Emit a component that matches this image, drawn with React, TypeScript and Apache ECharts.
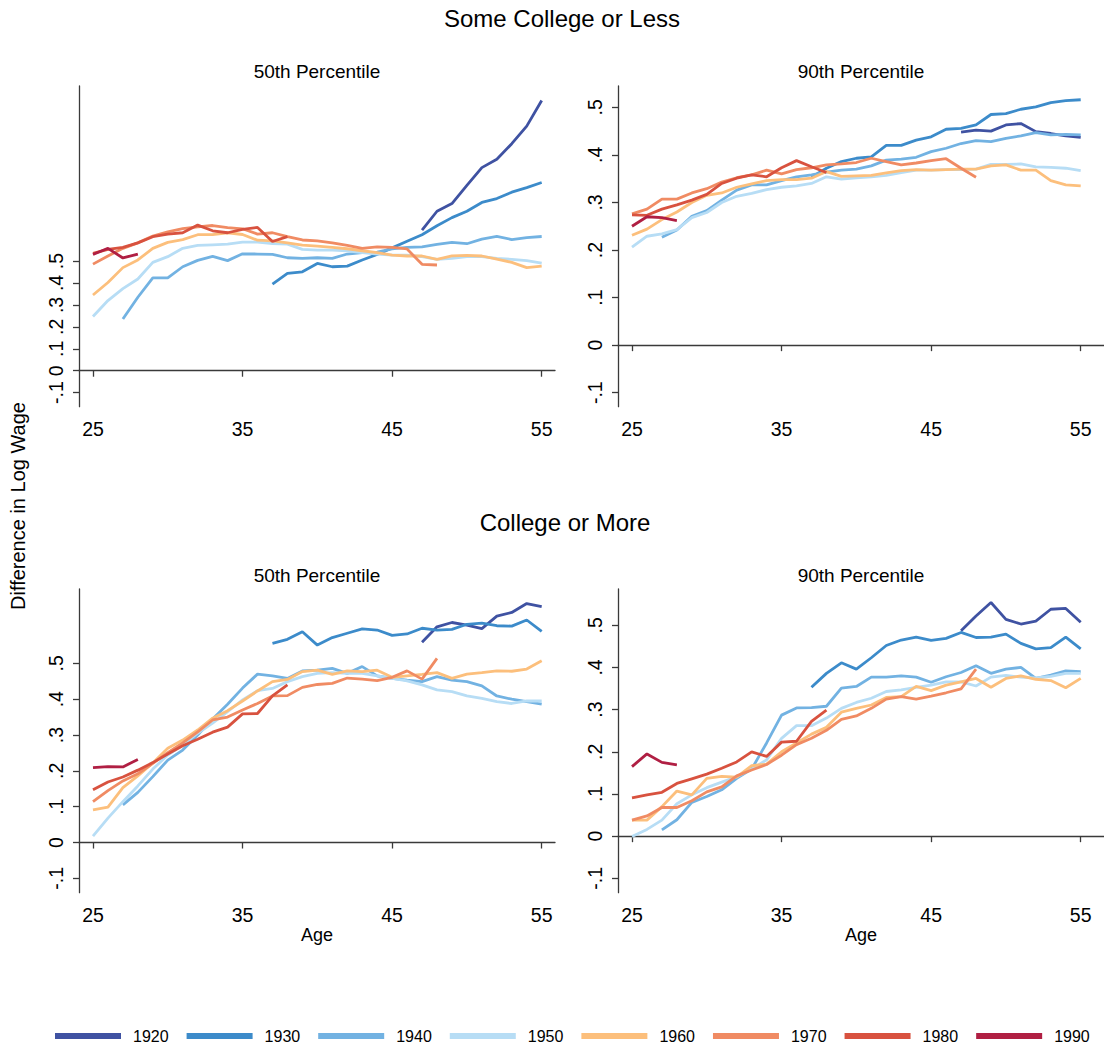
import React, { useEffect, useRef } from "react";
import * as echarts from "echarts";

// ---- categories / ticks ----
const cohorts = ["1920", "1930", "1940", "1950", "1960", "1970", "1980", "1990"];
const cohortColors = ["#3F52A2", "#3C8BCA", "#72B2E2", "#B7DDF5", "#FCBF7C", "#F08B63", "#D8523F", "#B01F43"];
const startAges = [47, 37, 27, 25, 25, 25, 25, 25];
const xTicks = [25, 35, 45, 55];
const yTicks = [-0.1, 0, 0.1, 0.2, 0.3, 0.4, 0.5];

// ---- Some College or Less, 50th percentile ----
const sc50_1920 = [0.641, 0.727, 0.762, 0.845, 0.926, 0.964, 1.035, 1.115, 1.232];
const sc50_1930 = [0.395, 0.444, 0.451, 0.489, 0.474, 0.477, 0.505, 0.53, 0.56, 0.59, 0.62, 0.661, 0.698, 0.727, 0.767, 0.785, 0.814, 0.835, 0.858];
const sc50_1940 = [0.236, 0.335, 0.423, 0.423, 0.474, 0.503, 0.521, 0.502, 0.533, 0.532, 0.53, 0.515, 0.512, 0.515, 0.512, 0.532, 0.538, 0.541, 0.555, 0.562, 0.565, 0.576, 0.585, 0.579, 0.6, 0.612, 0.598, 0.607, 0.612];
const sc50_1950 = [0.247, 0.32, 0.374, 0.418, 0.494, 0.52, 0.558, 0.571, 0.574, 0.577, 0.586, 0.586, 0.58, 0.577, 0.553, 0.55, 0.55, 0.547, 0.538, 0.532, 0.527, 0.527, 0.52, 0.508, 0.512, 0.52, 0.52, 0.512, 0.508, 0.502, 0.49];
const sc50_1960 = [0.345, 0.402, 0.47, 0.505, 0.558, 0.585, 0.598, 0.62, 0.62, 0.629, 0.621, 0.595, 0.592, 0.583, 0.573, 0.568, 0.562, 0.556, 0.547, 0.538, 0.527, 0.523, 0.523, 0.508, 0.524, 0.526, 0.523, 0.509, 0.494, 0.47, 0.477];
const sc50_1970 = [0.486, 0.523, 0.558, 0.583, 0.614, 0.633, 0.648, 0.656, 0.662, 0.652, 0.647, 0.623, 0.629, 0.611, 0.596, 0.592, 0.583, 0.571, 0.558, 0.565, 0.562, 0.555, 0.485, 0.482];
const sc50_1980 = [0.535, 0.553, 0.562, 0.583, 0.611, 0.623, 0.629, 0.664, 0.638, 0.629, 0.644, 0.653, 0.589, 0.611];
const sc50_1990 = [0.53, 0.558, 0.514, 0.532];

// ---- Some College or Less, 90th percentile ----
const sc90_1920 = [0.448, 0.452, 0.45, 0.463, 0.466, 0.449, 0.445, 0.44, 0.437];
const sc90_1930 = [0.353, 0.372, 0.386, 0.393, 0.396, 0.42, 0.42, 0.431, 0.438, 0.454, 0.456, 0.463, 0.485, 0.487, 0.496, 0.501, 0.51, 0.514, 0.516];
const sc90_1940 = [0.227, 0.242, 0.271, 0.283, 0.305, 0.326, 0.337, 0.337, 0.346, 0.354, 0.358, 0.364, 0.368, 0.37, 0.377, 0.389, 0.391, 0.395, 0.407, 0.414, 0.424, 0.43, 0.428, 0.435, 0.44, 0.447, 0.442, 0.443, 0.442];
const sc90_1950 = [0.206, 0.229, 0.234, 0.243, 0.268, 0.279, 0.3, 0.313, 0.319, 0.327, 0.332, 0.335, 0.34, 0.354, 0.349, 0.352, 0.354, 0.357, 0.363, 0.368, 0.368, 0.369, 0.369, 0.37, 0.38, 0.38, 0.381, 0.375, 0.374, 0.372, 0.367];
const sc90_1960 = [0.231, 0.244, 0.264, 0.28, 0.3, 0.315, 0.32, 0.332, 0.339, 0.346, 0.348, 0.348, 0.351, 0.365, 0.355, 0.356, 0.357, 0.362, 0.367, 0.369, 0.368, 0.369, 0.37, 0.37, 0.377, 0.379, 0.368, 0.368, 0.346, 0.337, 0.335];
const sc90_1970 = [0.276, 0.286, 0.307, 0.307, 0.32, 0.329, 0.343, 0.352, 0.358, 0.368, 0.36, 0.369, 0.373, 0.379, 0.381, 0.384, 0.393, 0.386, 0.379, 0.383, 0.388, 0.392, 0.372, 0.353];
const sc90_1980 = [0.274, 0.273, 0.286, 0.295, 0.305, 0.317, 0.34, 0.351, 0.358, 0.354, 0.373, 0.388, 0.375, 0.363];
const sc90_1990 = [0.25, 0.27, 0.268, 0.262];

// ---- College or More, 50th percentile ----
const co50_1920 = [0.559, 0.602, 0.614, 0.607, 0.597, 0.632, 0.642, 0.667, 0.658];
const co50_1930 = [0.556, 0.567, 0.588, 0.551, 0.572, 0.584, 0.596, 0.593, 0.578, 0.582, 0.598, 0.593, 0.595, 0.609, 0.612, 0.605, 0.604, 0.621, 0.589];
const co50_1940 = [0.105, 0.14, 0.184, 0.23, 0.258, 0.3, 0.345, 0.386, 0.431, 0.47, 0.465, 0.458, 0.479, 0.481, 0.486, 0.472, 0.491, 0.465, 0.458, 0.453, 0.449, 0.463, 0.453, 0.449, 0.437, 0.409, 0.4, 0.393, 0.386];
const co50_1950 = [0.018, 0.068, 0.114, 0.158, 0.205, 0.244, 0.272, 0.305, 0.333, 0.365, 0.398, 0.424, 0.43, 0.449, 0.463, 0.472, 0.474, 0.472, 0.472, 0.465, 0.458, 0.451, 0.44, 0.426, 0.421, 0.409, 0.402, 0.393, 0.388, 0.395, 0.395];
const co50_1960 = [0.091, 0.099, 0.153, 0.186, 0.222, 0.263, 0.286, 0.314, 0.347, 0.368, 0.395, 0.423, 0.449, 0.455, 0.477, 0.481, 0.469, 0.479, 0.477, 0.481, 0.461, 0.465, 0.469, 0.474, 0.458, 0.47, 0.474, 0.479, 0.478, 0.484, 0.507];
const co50_1970 = [0.114, 0.145, 0.172, 0.192, 0.221, 0.251, 0.278, 0.309, 0.342, 0.35, 0.37, 0.388, 0.409, 0.41, 0.433, 0.441, 0.444, 0.459, 0.456, 0.452, 0.461, 0.479, 0.456, 0.514];
const co50_1980 = [0.147, 0.169, 0.183, 0.202, 0.223, 0.247, 0.27, 0.288, 0.308, 0.322, 0.359, 0.36, 0.409, 0.44];
const co50_1990 = [0.209, 0.212, 0.211, 0.232];

// ---- College or More, 90th percentile ----
const co90_1920 = [0.487, 0.522, 0.554, 0.514, 0.503, 0.51, 0.538, 0.54, 0.507];
const co90_1930 = [0.353, 0.386, 0.411, 0.396, 0.423, 0.452, 0.465, 0.472, 0.464, 0.469, 0.483, 0.471, 0.472, 0.479, 0.457, 0.444, 0.447, 0.472, 0.444];
const co90_1940 = [0.015, 0.039, 0.08, 0.094, 0.11, 0.137, 0.159, 0.221, 0.287, 0.304, 0.305, 0.308, 0.351, 0.355, 0.377, 0.377, 0.38, 0.377, 0.365, 0.378, 0.388, 0.404, 0.386, 0.396, 0.4, 0.374, 0.382, 0.392, 0.39];
const co90_1950 = [-0.001, 0.016, 0.038, 0.077, 0.098, 0.115, 0.128, 0.141, 0.159, 0.181, 0.232, 0.262, 0.262, 0.28, 0.303, 0.317, 0.327, 0.343, 0.347, 0.353, 0.358, 0.366, 0.366, 0.356, 0.377, 0.381, 0.377, 0.375, 0.379, 0.386, 0.386];
const co90_1960 = [0.038, 0.038, 0.07, 0.107, 0.098, 0.137, 0.142, 0.14, 0.167, 0.171, 0.2, 0.221, 0.242, 0.258, 0.294, 0.303, 0.311, 0.329, 0.331, 0.355, 0.345, 0.358, 0.366, 0.374, 0.353, 0.374, 0.38, 0.372, 0.369, 0.352, 0.374];
const co90_1970 = [0.038, 0.048, 0.068, 0.068, 0.084, 0.105, 0.117, 0.143, 0.157, 0.17, 0.192, 0.217, 0.232, 0.251, 0.277, 0.285, 0.303, 0.325, 0.331, 0.325, 0.332, 0.34, 0.349, 0.396];
const co90_1980 = [0.091, 0.098, 0.104, 0.125, 0.136, 0.147, 0.161, 0.176, 0.2, 0.189, 0.223, 0.225, 0.272, 0.299];
const co90_1990 = [0.165, 0.195, 0.175, 0.169];

const panelSeries = [
  [sc50_1920, sc50_1930, sc50_1940, sc50_1950, sc50_1960, sc50_1970, sc50_1980, sc50_1990],
  [sc90_1920, sc90_1930, sc90_1940, sc90_1950, sc90_1960, sc90_1970, sc90_1980, sc90_1990],
  [co50_1920, co50_1930, co50_1940, co50_1950, co50_1960, co50_1970, co50_1980, co50_1990],
  [co90_1920, co90_1930, co90_1940, co90_1950, co90_1960, co90_1970, co90_1980, co90_1990],
];

const FONT = "'Liberation Sans', Arial, Helvetica, sans-serif";
const AXIS_COLOR = "#3a3a3a";

const fmtY = (v: number) => {
  if (Math.abs(v) < 1e-9) return "0";
  const s = String(Math.round(v * 10) / 10);
  return s.replace(/^(-?)0\./, "$1.");
};

export default function App() {
  const ref = useRef<HTMLDivElement>(null);

  useEffect(() => {
    if (!ref.current) return;
    const chart = echarts.init(ref.current, null, { renderer: "svg" });

    const grids = [
      { left: 79, top: 86, width: 476, height: 320.7 },
      { left: 618, top: 86, width: 486, height: 320.7 },
      { left: 79, top: 589, width: 476, height: 303.7 },
      { left: 618, top: 589, width: 486, height: 303.7 },
    ];
    const xRanges = [
      [24.065, 55.89],
      [24.064, 56.557],
      [24.065, 55.89],
      [24.064, 56.557],
    ];
    const yRanges = [
      [-0.164, 1.298],
      [-0.1294, 0.5449],
      [-0.14, 0.7075],
      [-0.134, 0.586],
    ];

    const axisLine = { show: true, lineStyle: { color: AXIS_COLOR, width: 1.3 } };
    const axisTick = (vals: number[]) => ({
      show: true,
      length: 6,
      lineStyle: { color: AXIS_COLOR, width: 1.3 },
      customValues: vals,
    });

    const xAxis = grids.map((_, i) => ({
      type: "value",
      gridIndex: i,
      min: xRanges[i][0],
      max: xRanges[i][1],
      axisLine,
      axisTick: axisTick(xTicks),
      axisLabel: {
        customValues: xTicks,
        color: "#000",
        fontSize: 19.5,
        fontFamily: FONT,
        margin: 12,
        formatter: (v: number) => String(Math.round(v)),
      },
      splitLine: { show: false },
      name: i >= 2 ? "Age" : "",
      nameLocation: "middle",
      nameGap: 32,
      nameTextStyle: { color: "#000", fontSize: 18, fontFamily: FONT, verticalAlign: "top" },
    }));

    const yAxis = grids.map((_, i) => ({
      type: "value",
      gridIndex: i,
      min: yRanges[i][0],
      max: yRanges[i][1],
      axisLine,
      axisTick: axisTick(yTicks),
      axisLabel: {
        customValues: yTicks,
        color: "#000",
        fontSize: 19.5,
        fontFamily: FONT,
        rotate: 90,
        margin: 13,
        formatter: fmtY,
      },
      splitLine: { show: false },
    }));

    const series: any[] = [];
    panelSeries.forEach((list, p) => {
      list.forEach((vals, c) => {
        series.push({
          type: "line",
          name: cohorts[c],
          xAxisIndex: p,
          yAxisIndex: p,
          data: vals.map((v, k) => [startAges[c] + k, v]),
          showSymbol: false,
          symbol: "none",
          lineStyle: { width: 2.8, color: cohortColors[c] },
          itemStyle: { color: cohortColors[c] },
          emphasis: { disabled: true },
        });
      });
    });

    const txt = (x: number, y: number, text: string, size: number, rotation = 0) => ({
      type: "text",
      x,
      y,
      rotation,
      style: {
        text,
        fontSize: size,
        fontFamily: FONT,
        fill: "#000",
        textAlign: "center",
        textVerticalAlign: "middle",
      },
    });

    chart.setOption({
      animation: false,
      backgroundColor: "#fff",
      grid: grids,
      xAxis,
      yAxis,
      series,
      legend: {
        data: cohorts,
        left: 55,
        top: 1028,
        padding: 0,
        icon: "rect",
        itemWidth: 66,
        itemHeight: 6,
        itemGap: 18,
        textStyle: {
          color: "#000",
          fontSize: 16,
          fontFamily: FONT,
          padding: [0, 0, 0, 7],
        },
      },
      graphic: [
        txt(562, 18, "Some College or Less", 24),
        txt(317, 71, "50th Percentile", 19),
        txt(861, 71, "90th Percentile", 19),
        txt(565, 522, "College or More", 24),
        txt(317, 575, "50th Percentile", 19),
        txt(861, 575, "90th Percentile", 19),
        txt(18, 506, "Difference in Log Wage", 20, Math.PI / 2),
      ],
    });

    return () => chart.dispose();
  }, []);

  return (
    <div
      ref={ref}
      style={{ position: "absolute", left: 0, top: 0, width: 1104, height: 1051, background: "#fff" }}
    />
  );
}
